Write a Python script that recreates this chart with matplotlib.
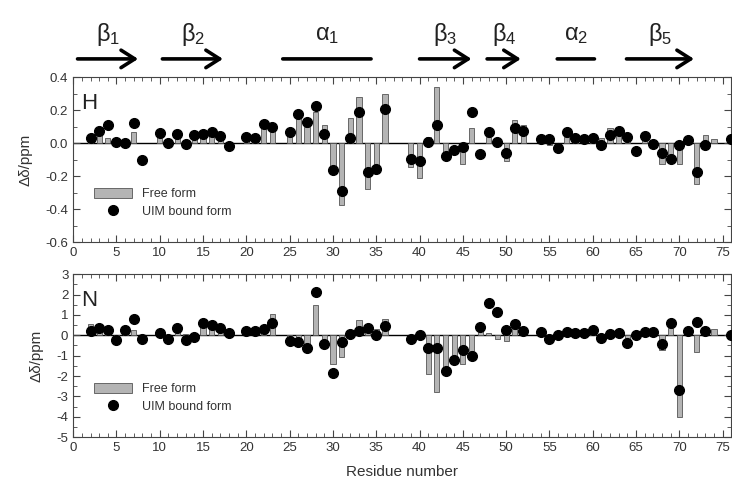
import numpy as np
import matplotlib.pyplot as plt
from matplotlib.patches import Patch
from matplotlib.lines import Line2D
from matplotlib.ticker import MultipleLocator

plt.rcParams['font.family'] = ['Liberation Sans', 'DejaVu Sans']

nan = np.nan
residue = np.arange(1, 77)

# chemical shift changes, residues 1..76 (nan = not observed)
h_free = [nan, 0.02, 0.05, 0.03, 0.01, -0.02, 0.07, nan, nan, 0.04,
          0.0, 0.04, 0.0, 0.03, 0.03, 0.06, 0.05, nan, nan, 0.02,
          0.02, 0.10, 0.10, nan, 0.045, 0.15, 0.10, 0.186, 0.11, -0.16,
          -0.375, 0.15, 0.28, -0.277, -0.17, 0.30, nan, nan, -0.145, -0.21,
          0.04, 0.34, -0.06, nan, -0.127, 0.09, nan, 0.04, nan, -0.107,
          0.14, 0.11, nan, 0.02, -0.014, nan, 0.04, 0.02, 0.02, 0.04,
          0.03, 0.09, 0.09, 0.04, nan, 0.02, nan, -0.127, -0.115, -0.127,
          nan, -0.25, 0.05, 0.024, nan, nan]
h_bound = [nan, 0.03, 0.075, 0.11, 0.01, 0.0, 0.12, -0.105, nan, 0.06,
           0.0, 0.057, -0.005, 0.05, 0.055, 0.07, 0.045, -0.02, nan, 0.04,
           0.03, 0.115, 0.095, nan, 0.065, 0.176, 0.13, 0.226, 0.057, -0.16,
           -0.29, 0.034, 0.186, -0.176, -0.158, 0.206, nan, nan, -0.095, -0.107,
           0.01, 0.11, -0.08, -0.042, -0.022, 0.19, -0.067, 0.065, 0.01, -0.057,
           0.09, 0.075, nan, 0.024, 0.024, -0.03, 0.065, 0.034, 0.024, 0.034,
           -0.014, 0.05, 0.075, 0.04, -0.046, 0.046, -0.004, -0.06, -0.095, -0.01,
           0.02, -0.176, -0.01, nan, nan, 0.026]
n_free = [nan, 0.54, 0.4, 0.2, -0.1, 0.1, 0.25, nan, nan, 0.1,
          -0.1, 0.15, 0.05, -0.05, 0.54, 0.38, 0.3, 0.1, nan, 0.1,
          0.1, 0.25, 1.07, nan, -0.2, -0.15, -0.55, 1.48, -0.25, -1.39,
          -1.07, 0.05, 0.75, 0.2, 0.33, 0.82, nan, nan, nan, nan,
          -1.92, -2.79, -1.6, -1.2, -1.39, -0.77, 0.2, 0.13, -0.2, -0.28,
          0.3, 0.43, nan, 0.1, -0.1, 0.05, 0.1, 0.1, 0.1, 0.15,
          -0.05, 0.05, 0.1, -0.2, nan, 0.1, 0.1, -0.72, 0.38, -4.0,
          nan, -0.82, nan, 0.33, nan, nan]
n_bound = [nan, 0.21, 0.38, 0.26, -0.25, 0.26, 0.79, -0.2, nan, 0.13,
           -0.16, 0.34, -0.25, -0.07, 0.59, 0.49, 0.38, 0.13, nan, 0.21,
           0.21, 0.3, 0.59, nan, -0.28, -0.31, -0.64, 2.13, -0.44, -1.84,
           -0.33, 0.05, 0.2, 0.38, 0.02, 0.46, nan, nan, -0.16, 0.0,
           -0.62, -0.62, -1.75, -1.23, -0.72, -1.02, 0.43, 1.61, 1.16, 0.25,
           0.54, 0.21, nan, 0.16, -0.2, 0.02, 0.16, 0.13, 0.13, 0.25,
           -0.11, 0.05, 0.13, -0.36, 0.0, 0.18, 0.18, -0.44, 0.59, -2.69,
           0.21, 0.67, 0.21, nan, nan, 0.02]

# secondary structure elements (residue ranges)
ss_labels = [r'$\mathregular{β_1}$', r'$\mathregular{β_2}$', r'$\mathregular{α_1}$',
             r'$\mathregular{β_3}$', r'$\mathregular{β_4}$', r'$\mathregular{α_2}$',
             r'$\mathregular{β_5}$']
ss_start = [0.5, 10.3, 24.2, 40.0, 47.8, 55.9, 63.9]
ss_end = [7.5, 17.3, 34.4, 46.0, 51.7, 60.2, 71.7]
ss_strand = [True, True, False, True, True, False, True]

fig = plt.figure(figsize=(7.32, 4.95), dpi=100)
ax1 = fig.add_axes([0.1, 0.511, 0.899, 0.333])
ax2 = fig.add_axes([0.1, 0.117, 0.899, 0.329])

txt = '#333333'
panels = [(ax1, h_free, h_bound, 'H', (-0.6, 0.4), 0.2, 0.1, '%.1f'),
          (ax2, n_free, n_bound, 'N', (-5, 3), 1, 0.5, '%d')]

for ax, free, bound, name, ylim, major, minor, fmt in panels:
    ax.axhline(0, color='black', lw=1.0, zorder=1)
    ax.bar(residue, free, width=0.6, color='#b4b4b4', edgecolor='#555555',
           linewidth=0.6, zorder=2)
    ax.plot(residue, bound, 'o', color='black', markersize=7, zorder=3)
    ax.set_xlim(0, 76)
    ax.set_ylim(*ylim)
    ax.xaxis.set_major_locator(MultipleLocator(5))
    ax.xaxis.set_minor_locator(MultipleLocator(1))
    ax.yaxis.set_major_locator(MultipleLocator(major))
    ax.yaxis.set_minor_locator(MultipleLocator(minor))
    ax.yaxis.set_major_formatter(plt.FormatStrFormatter(fmt))
    ax.tick_params(which='both', direction='in', top=True, right=True,
                   labelsize=9.5, labelcolor=txt, color='#444444')
    ax.tick_params(which='major', length=5)
    ax.tick_params(which='minor', length=3)
    for s in ax.spines.values():
        s.set_color('#444444')
    ax.set_ylabel('Δδ/ppm', fontsize=11, color=txt, labelpad=9)
    ax.text(0.012, 0.84, name, transform=ax.transAxes, fontsize=16,
            color='#222222', va='center')
    handles = [Patch(facecolor='#b4b4b4', edgecolor='#555555', linewidth=0.6),
               Line2D([], [], ls='none', marker='o', color='black', markersize=7)]
    ax.legend(handles, ['Free form', 'UIM bound form'], loc='lower left',
              bbox_to_anchor=(0.015, 0.08), frameon=False, fontsize=9,
              handlelength=3.0, handleheight=0.9, labelspacing=0.4,
              labelcolor=txt)

ax2.set_xlabel('Residue number', fontsize=11, color=txt, labelpad=8)

# secondary structure header
for lab, x0, x1, strand in zip(ss_labels, ss_start, ss_end, ss_strand):
    style = '->,head_length=0.55,head_width=0.35' if strand else '-'
    ax1.annotate('', xy=(x1, 0.881), xytext=(x0, 0.881),
                 xycoords=('data', 'figure fraction'),
                 textcoords=('data', 'figure fraction'),
                 arrowprops=dict(arrowstyle=style, lw=2.6, color='black',
                                 mutation_scale=18, shrinkA=0, shrinkB=0),
                 annotation_clip=False)
    ax1.annotate(lab, xy=((x0 + x1) / 2, 0.93), xycoords=('data', 'figure fraction'),
                 ha='center', va='center', fontsize=17, color='#222222',
                 annotation_clip=False)

fig.savefig('out.png', dpi=100)
